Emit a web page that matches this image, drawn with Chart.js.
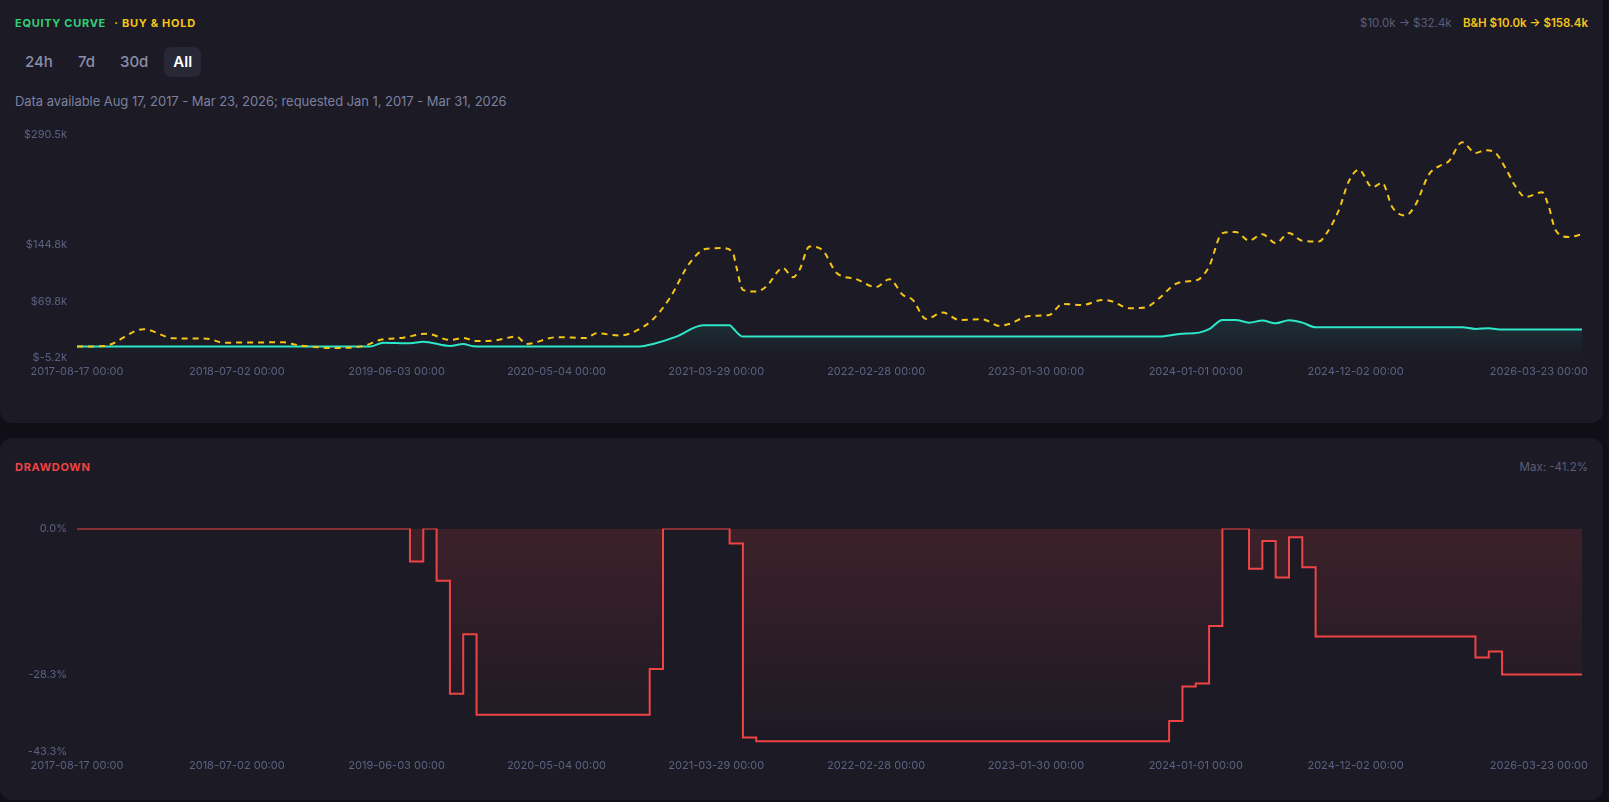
<!DOCTYPE html>
<html>
<head>
<meta charset="utf-8">
<script src="https://cdn.jsdelivr.net/npm/chart.js@4.4.1/dist/chart.umd.min.js"></script>
<style>
  html, body { margin: 0; padding: 0; }
  body {
    width: 1609px; height: 802px; overflow: hidden; position: relative;
    background: #100f18; font-family: Inter, "Noto Sans", sans-serif;
  }
  .card { position: absolute; left: 0; width: 1603px; background: #1b1a25; border-radius: 12px; }
  .title { position: absolute; left: 15px; font-size: 11px; font-weight: 700; letter-spacing: 0.7px; }
  .right-note { position: absolute; right: 21px; font-size: 11.5px; white-space: nowrap; }
  .tabs { position: absolute; left: 16px; top: 47px; display: flex; gap: 7px; }
  .tab { height: 30px; line-height: 30px; padding: 0 9px; font-size: 15px; font-weight: 500; color: #8a8ea8; border-radius: 7px; }
  .tab.active { background: #272735; color: #ffffff; font-weight: 600; }
  .range { position: absolute; left: 15px; top: 93px; font-size: 13px; color: #7c809e; letter-spacing: -0.05px; }
  .box { position: absolute; left: 15px; width: 1573px; }
</style>
</head>
<body>
  <div class="card" style="top:-20px; height:443px;"></div>
  <div class="card" style="top:438px; height:362px;"></div>

  <div class="title" style="top:16px;">
    <span style="color:#35d07a;">EQUITY CURVE</span>
    <span style="color:#f5c518; margin-left:5px;">· BUY &amp; HOLD</span>
  </div>
  <div class="right-note" style="top:16px;">
    <span style="color:#5b5e78;">$10.0k → $32.4k</span>
    <span style="color:#f5c518; font-weight:600; margin-left:8px;">B&amp;H $10.0k → $158.4k</span>
  </div>
  <div class="tabs">
    <div class="tab">24h</div>
    <div class="tab">7d</div>
    <div class="tab">30d</div>
    <div class="tab active">All</div>
  </div>
  <div class="range">Data available Aug 17, 2017 - Mar 23, 2026; requested Jan 1, 2017 - Mar 31, 2026</div>
  <div class="box" style="top:118px; height:266px;"><canvas id="equityChart"></canvas></div>

  <div class="title" style="top:460px; color:#ef4444;">DRAWDOWN</div>
  <div class="right-note" style="top:460px; color:#5b5e78;">Max: -41.2%</div>
  <div class="box" style="top:512px; height:266px;"><canvas id="drawdownChart"></canvas></div>

<script>
// x values are week numbers counted from the first data point (2017-08-17)
const lastWeek = 452;
const xTickWeeks = [0, 48, 96, 144, 192, 240, 288, 336, 384, 452];
const xTickLabels = ['2017-08-17 00:00', '2018-07-02 00:00', '2019-06-03 00:00', '2020-05-04 00:00',
  '2021-03-29 00:00', '2022-02-28 00:00', '2023-01-30 00:00', '2024-01-01 00:00',
  '2024-12-02 00:00', '2026-03-23 00:00'];

// strategy equity, $k
const stratWeeks = [0, 88, 92, 100, 104, 112, 116, 119, 122, 169, 173, 180, 188, 196, 197, 200,
  325, 331, 337, 340, 344, 348, 352, 356, 360, 364, 368, 372, 416, 420, 424, 428, 452];
const stratValues = [10, 10, 15.1, 14.3, 16.4, 10.7, 13.4, 10.3, 10, 10, 13.4, 23.1, 38.2, 38.2, 34.2, 23.1,
  23.1, 26.6, 28.4, 32.9, 45.2, 45.2, 41.6, 44.3, 40.8, 44.7, 41.6, 35.5, 35.5, 33.3, 34.2, 32.4, 32.4];

// buy & hold equity, $k
const bhWeeks = [0, 8, 20, 29, 39, 44, 62, 66, 70, 76, 86, 91, 98, 105, 112, 116, 120, 125, 132, 135,
  144, 153, 156, 163, 168, 173, 178, 184, 189, 194, 197, 198, 200, 204, 207, 212, 215, 217, 220, 224,
  228, 234, 240, 244, 248, 251, 255, 260, 265, 272, 277, 280, 286, 292, 296, 302, 308, 311, 316, 321,
  325, 330, 335, 337, 340, 344, 348, 352, 356, 360, 364, 368, 373, 375, 379, 382, 385, 389, 392, 395,
  399, 402, 406, 410, 412, 416, 420, 423, 426, 429, 432, 435, 440, 442, 444, 448, 452];
const bhValues = [10, 10.6, 32.9, 20.9, 20.4, 15.1, 15.6, 11.9, 10, 8.1, 10.7, 18.7, 21.7, 27, 18.7, 21.3, 17.3, 17.8, 23.1, 13.4,
  22.3, 21.3, 27.5, 24.4, 31, 46, 73.9, 120.4, 139.4, 140.3, 133.7, 115.9, 85, 82.7, 89.4, 113.8, 101.8, 111.5, 142.5, 137.2,
  108, 99.2, 88.6, 99.2, 78.4, 71.7, 46.4, 54.9, 45.2, 46, 37.2, 39.9, 50.4, 51.8, 66.4, 65, 71.7, 69.5, 60.7, 62,
  73.9, 93, 97, 99.2, 115.9, 160.1, 161.5, 150.3, 158.7, 146.8, 160.1, 149.9, 149, 157.9, 191, 229, 244.1, 220.8, 226.6, 194.6,
  183.5, 197.7, 237.5, 250.8, 255.2, 280.4, 266.3, 269.8, 266.3, 246.4, 222.1, 207.9, 214.1, 195.5, 164.6, 154.9, 158.4];

const equityTicks = [-5.2, 69.8, 144.8, 290.5];

// drawdown, % (each value holds until the next week listed)
const ddWeeks = [0, 100, 104, 108, 112, 116, 120, 172, 176, 196, 200, 204, 328, 332, 336, 340, 344,
  352, 356, 360, 364, 368, 372, 420, 424, 428, 452];
const ddValues = [0, -6.4, 0, -10.1, -32.0, -20.5, -36.1, -27.2, 0, -2.9, -40.5, -41.2, -37.3, -30.6, -30.0, -18.9, 0,
  -7.8, -2.4, -9.5, -1.7, -7.5, -20.9, -25.0, -23.8, -28.3, -28.3];
const ddTicks = [0, -28.3, -43.3];

const TICK_COLOR = '#5d6180';
const toPoints = (xs, ys) => xs.map((x, i) => ({ x, y: ys[i] }));

const xLabelsPlugin = {
  id: 'xLabels',
  afterDraw(chart) {
    const { ctx, chartArea, scales } = chart;
    ctx.save();
    ctx.font = '11px Inter';
    ctx.fillStyle = TICK_COLOR;
    ctx.textBaseline = 'middle';
    xTickWeeks.forEach((w, i) => {
      const last = i === xTickWeeks.length - 1;
      ctx.textAlign = last ? 'right' : 'center';
      ctx.fillText(xTickLabels[i], scales.x.getPixelForValue(w) + (last ? 6 : 0), chartArea.bottom + 14);
    });
    ctx.restore();
  }
};

const baseOptions = (yMin, yMax, yTicks, fmt) => ({
  responsive: true,
  maintainAspectRatio: false,
  animation: false,
  layout: { padding: { top: 10, right: 6, bottom: 26, left: 0 } },
  plugins: { legend: { display: false }, tooltip: { enabled: false } },
  elements: { point: { radius: 0 } },
  scales: {
    x: { type: 'linear', min: 0, max: lastWeek, display: false },
    y: {
      min: yMin,
      max: yMax,
      grid: { display: false, drawTicks: false },
      border: { display: false },
      afterBuildTicks: axis => { axis.ticks = yTicks.map(value => ({ value })); },
      afterFit: axis => { axis.width = 62; },
      ticks: {
        padding: 10,
        color: TICK_COLOR,
        font: { family: 'Inter', size: 11 },
        callback: fmt
      }
    }
  }
});

new Chart(document.getElementById('equityChart'), {
  type: 'line',
  data: {
    datasets: [{
      label: 'Buy & Hold',
      data: toPoints(bhWeeks, bhValues),
      borderColor: '#f5c518',
      borderWidth: 2,
      borderDash: [6, 5],
      cubicInterpolationMode: 'monotone',
      fill: false
    }, {
      label: 'Strategy',
      data: toPoints(stratWeeks, stratValues),
      borderColor: '#2ee6c8',
      borderWidth: 2,
      cubicInterpolationMode: 'monotone',
      fill: 'start',
      backgroundColor: ctx => {
        const area = ctx.chart.chartArea;
        if (!area) return 'rgba(46,230,200,0.1)';
        const g = ctx.chart.ctx.createLinearGradient(0, area.bottom - 45, 0, area.bottom);
        g.addColorStop(0, 'rgba(46,230,200,0.13)');
        g.addColorStop(1, 'rgba(46,230,200,0)');
        return g;
      }
    }]
  },
  options: baseOptions(-5.2, 290.5, equityTicks, v => '$' + v.toFixed(1) + 'k'),
  plugins: [xLabelsPlugin]
});

new Chart(document.getElementById('drawdownChart'), {
  type: 'line',
  data: {
    datasets: [{
      label: 'Drawdown',
      data: toPoints(ddWeeks, ddValues),
      borderColor: '#ef4444',
      borderWidth: 2,
      stepped: true,
      fill: 'origin',
      backgroundColor: ctx => {
        const area = ctx.chart.chartArea;
        if (!area) return 'rgba(239,68,68,0.1)';
        const g = ctx.chart.ctx.createLinearGradient(0, area.top, 0, area.bottom);
        g.addColorStop(0, 'rgba(239,68,68,0.16)');
        g.addColorStop(1, 'rgba(239,68,68,0)');
        return g;
      }
    }]
  },
  options: baseOptions(-43.3, 0, ddTicks, v => v.toFixed(1) + '%'),
  plugins: [xLabelsPlugin]
});
</script>
</body>
</html>
